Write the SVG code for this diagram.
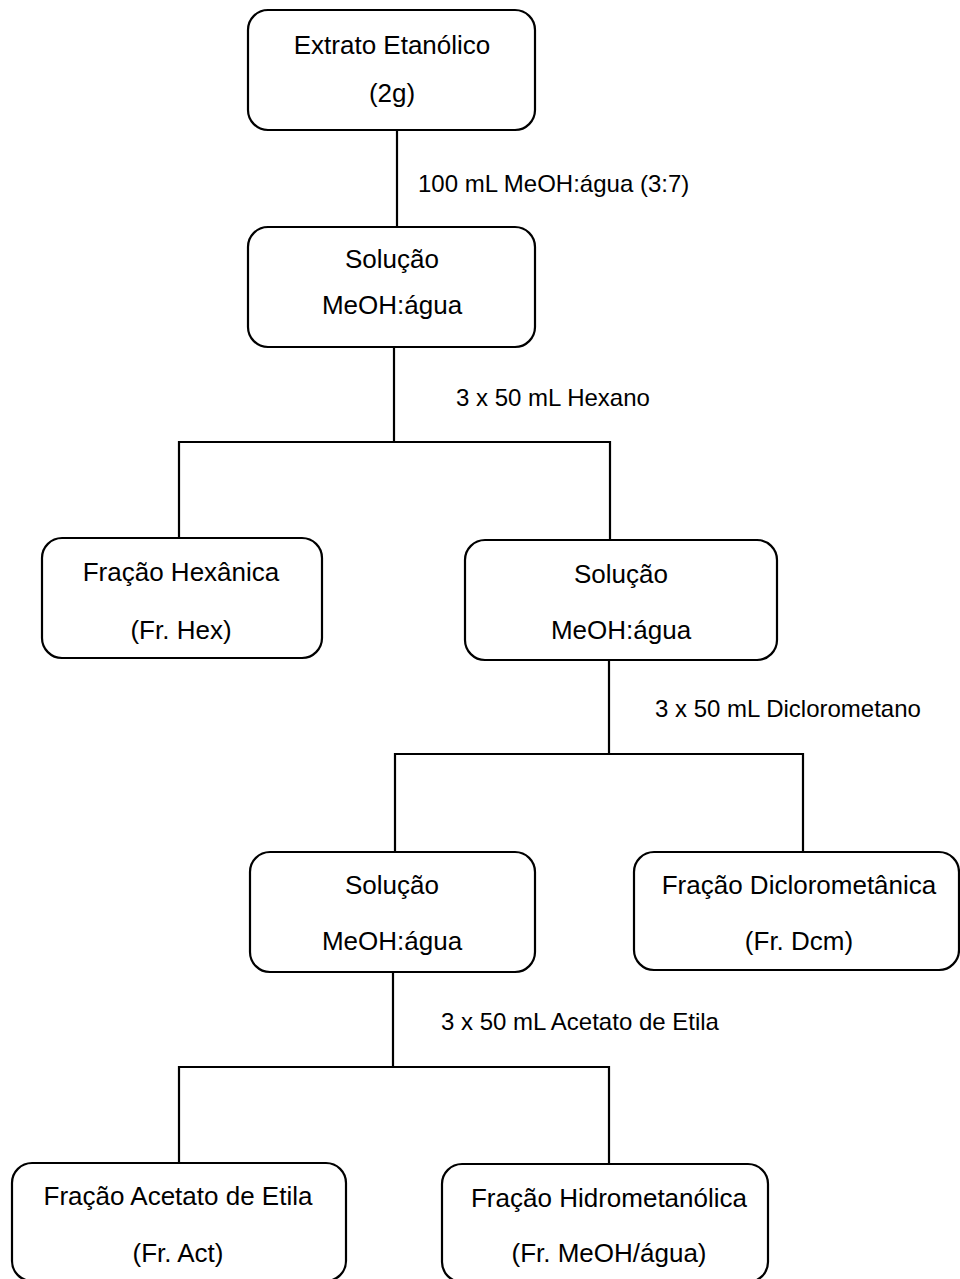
<svg xmlns="http://www.w3.org/2000/svg" width="960" height="1279" viewBox="0 0 960 1279">
<style>
.box{fill:#fff;stroke:#000;stroke-width:2.2}
.t{font-family:"Liberation Sans",Arial,sans-serif;font-size:26px;fill:#000;text-anchor:middle}
.l{font-family:"Liberation Sans",Arial,sans-serif;font-size:24px;fill:#000}
.c{stroke:#000;stroke-width:2.2;fill:none}
</style>
<rect width="960" height="1279" fill="#fff"/>
<g id="connectors">
<path class="c" d="M397 130V227"/>
<path class="c" d="M394 347V442M179 538V442H610V540"/>
<path class="c" d="M609 660V754M395 852V754H803V852"/>
<path class="c" d="M393 972V1067M179 1163V1067H609V1164"/>
<text class="l" x="418" y="192">100 mL MeOH:água (3:7)</text>
<text class="l" x="456" y="406">3 x 50 mL Hexano</text>
<text class="l" x="655" y="717">3 x 50 mL Diclorometano</text>
<text class="l" x="441" y="1030">3 x 50 mL Acetato de Etila</text>
</g>
<g id="extrato">
<rect class="box" x="248" y="10" width="287" height="120" rx="20"/>
<text class="t" x="392" y="54">Extrato Etanólico</text>
<text class="t" x="392" y="102">(2g)</text>
</g>
<g id="solucao1">
<rect class="box" x="248" y="227" width="287" height="120" rx="20"/>
<text class="t" x="392" y="268">Solução</text>
<text class="t" x="392" y="314">MeOH:água</text>
</g>
<g id="hexanica">
<rect class="box" x="42" y="538" width="280" height="120" rx="20"/>
<text class="t" x="181" y="581">Fração Hexânica</text>
<text class="t" x="181" y="639">(Fr. Hex)</text>
</g>
<g id="solucao2">
<rect class="box" x="465" y="540" width="312" height="120" rx="20"/>
<text class="t" x="621" y="583">Solução</text>
<text class="t" x="621" y="639">MeOH:água</text>
</g>
<g id="solucao3">
<rect class="box" x="250" y="852" width="285" height="120" rx="20"/>
<text class="t" x="392" y="894">Solução</text>
<text class="t" x="392" y="950">MeOH:água</text>
</g>
<g id="diclorometanica">
<rect class="box" x="634" y="852" width="325" height="118" rx="20"/>
<text class="t" x="799" y="894">Fração Diclorometânica</text>
<text class="t" x="799" y="950">(Fr. Dcm)</text>
</g>
<g id="acetato">
<rect class="box" x="12" y="1163" width="334" height="118" rx="20"/>
<text class="t" x="178" y="1205">Fração Acetato de Etila</text>
<text class="t" x="178" y="1262">(Fr. Act)</text>
</g>
<g id="hidrometanolica">
<rect class="box" x="442" y="1164" width="326" height="118" rx="20"/>
<text class="t" x="609" y="1207">Fração Hidrometanólica</text>
<text class="t" x="609" y="1262">(Fr. MeOH/água)</text>
</g>
</svg>
